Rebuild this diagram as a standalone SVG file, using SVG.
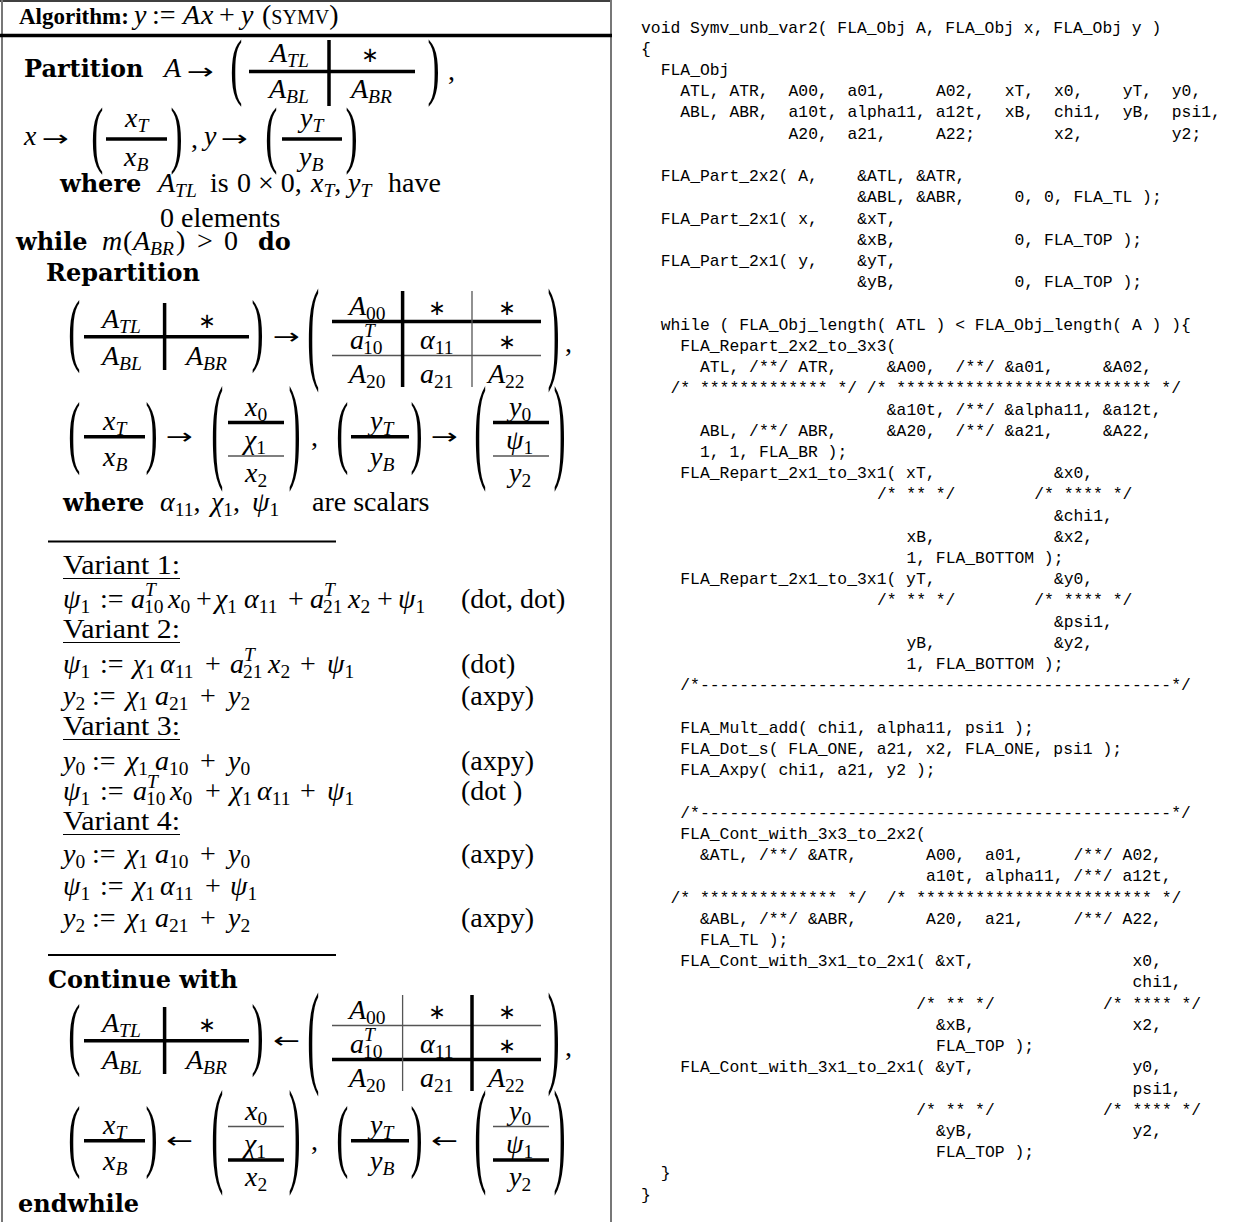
<svg xmlns="http://www.w3.org/2000/svg" width="1234" height="1222" viewBox="0 0 1234 1222">
<style>
.kb{font-family:"DejaVu Serif",serif;font-weight:bold;font-size:24px;fill:#000}
.tb{font-family:"Liberation Serif",serif;font-weight:bold;font-size:23px;fill:#000}
.mi{font-family:"Liberation Serif",serif;font-style:italic;font-size:28px;fill:#000}
.mr{font-family:"Liberation Serif",serif;font-size:28px;font-style:normal;fill:#000}
.ar{font-family:"DejaVu Sans",sans-serif;font-size:22px;font-style:normal;fill:#000}
.si{font-family:"Liberation Serif",serif;font-style:italic;font-size:19.5px}
.sr{font-family:"Liberation Serif",serif;font-style:normal;font-size:19.5px}
.sc{font-family:"Liberation Serif",serif;font-size:20px}
.ast{font-family:"DejaVu Sans",sans-serif;font-size:21px;text-anchor:middle;fill:#000}
.p{font-family:"Liberation Serif",serif;font-size:26px;fill:#000}
.tk{stroke:#000;stroke-width:3.5}
.tn{stroke:#555;stroke-width:1.3}
.rule{stroke:#000;stroke-width:2}
.ul{stroke:#000;stroke-width:1.2}
.code{font-family:"Liberation Mono",monospace;font-size:16.38px;fill:#000}
</style>
<rect width="1234" height="1222" fill="#fff"/>
<g id="frame">
<line x1="0" y1="1" x2="612" y2="1" stroke="#000" stroke-width="1.5"/>
<line x1="2" y1="0" x2="2" y2="1222" stroke="#777" stroke-width="2"/>
<line x1="611" y1="0" x2="611" y2="1222" stroke="#777" stroke-width="2"/>
<line x1="0" y1="35.5" x2="612" y2="35.5" stroke="#000" stroke-width="3.5"/>
</g>
<g id="title">
<text class="tb" x="19" y="24">Algorithm:</text>
<text class="mi" x="134" y="24">y</text>
<text class="mr" x="152" y="24">:=</text>
<text class="mi" x="183" y="24">A</text>
<text class="mi" x="201" y="24">x</text>
<text class="mr" x="219" y="24">+</text>
<text class="mi" x="241" y="24">y</text>
<text class="mr" x="262" y="24">(<tspan class="sc">SYMV</tspan>)</text>
</g>
<g id="partition">
<text class="kb" x="24" y="77">Partition</text>
<text class="mi" x="164" y="77">A</text>
<text class="ar" x="187" y="78.5" textLength="27" lengthAdjust="spacingAndGlyphs">→</text>
<text class="p" transform="translate(230.25,90.7) scale(1.4,2.885)">(</text>
<text class="mi" x="270" y="62">A<tspan class="si" dy="5">TL</tspan></text>
<text class="ast" x="370" y="62">∗</text>
<line class="tk" x1="249" y1="71.5" x2="415" y2="71.5"/>
<line class="tk" x1="329" y1="40" x2="329" y2="106"/>
<text class="mi" x="269" y="98">A<tspan class="si" dy="5">BL</tspan></text>
<text class="mi" x="351" y="98">A<tspan class="si" dy="5">BR</tspan></text>
<text class="p" transform="translate(427.6,90.7) scale(1.4,2.885)">)</text>
<text class="mr" x="448" y="80">,</text>
<text class="mi" x="24" y="145">x</text>
<text class="ar" x="42" y="146" textLength="27" lengthAdjust="spacingAndGlyphs">→</text>
<text class="p" transform="translate(91.25,158.7) scale(1.4,2.885)">(</text>
<text class="mi" x="125" y="127">x<tspan class="si" dy="5">T</tspan></text>
<line class="tk" x1="106" y1="139" x2="167" y2="139"/>
<text class="mi" x="124" y="166">x<tspan class="si" dy="5">B</tspan></text>
<text class="p" transform="translate(170.6,158.7) scale(1.4,2.885)">)</text>
<text class="mr" x="191" y="148">,</text>
<text class="mi" x="204" y="145">y</text>
<text class="ar" x="221" y="146" textLength="27" lengthAdjust="spacingAndGlyphs">→</text>
<text class="p" transform="translate(265.25,158.7) scale(1.4,2.885)">(</text>
<text class="mi" x="300" y="127">y<tspan class="si" dy="5">T</tspan></text>
<line class="tk" x1="282" y1="139" x2="342" y2="139"/>
<text class="mi" x="299" y="166">y<tspan class="si" dy="5">B</tspan></text>
<text class="p" transform="translate(345.6,158.7) scale(1.4,2.885)">)</text>
<text class="kb" x="60" y="192">where</text>
<text class="mi" x="158" y="192">A<tspan class="si" dy="5">TL</tspan></text>
<text class="mr" x="210" y="192">is</text>
<text class="mr" x="237" y="192">0 × 0,</text>
<text class="mi" x="311" y="192">x<tspan class="si" dy="5">T</tspan><tspan class="mr" dy="-5">,</tspan></text>
<text class="mi" x="348" y="192">y<tspan class="si" dy="5">T</tspan></text>
<text class="mr" x="388" y="192">have</text>
<text class="mr" x="160" y="227">0 elements</text>
</g>
<g id="while">
<text class="kb" x="16" y="250">while</text>
<text class="mi" x="102" y="250">m</text>
<text class="mr" x="123" y="250">(</text>
<text class="mi" x="133" y="250">A<tspan class="si" dy="5">BR</tspan></text>
<text class="mr" x="176" y="250">)</text>
<text class="mr" x="197" y="250">&gt;</text>
<text class="mr" x="224" y="250">0</text>
<text class="kb" x="258" y="250">do</text>
</g>
<g id="repartition">
<text class="kb" x="46" y="281">Repartition</text>
<text class="p" transform="translate(68.25,355.9) scale(1.4,3.066)">(</text>
<text class="mi" x="102" y="328">A<tspan class="si" dy="5">TL</tspan></text>
<text class="ast" x="207" y="328">∗</text>
<text class="mi" x="102" y="365">A<tspan class="si" dy="5">BL</tspan></text>
<text class="mi" x="186" y="365">A<tspan class="si" dy="5">BR</tspan></text>
<line class="tk" x1="84" y1="336.7" x2="249" y2="336.7"/>
<line class="tk" x1="164.6" y1="303" x2="164.6" y2="370"/>
<text class="p" transform="translate(251.6,355.9) scale(1.4,3.066)">)</text>
<text class="ar" x="273" y="343.7" textLength="27" lengthAdjust="spacingAndGlyphs">→</text>
<text class="p" transform="translate(307.25,367.7) scale(1.4,4.418)">(</text>
<line class="tk" x1="332" y1="321.5" x2="541" y2="321.5"/>
<line class="tn" x1="332" y1="355.5" x2="541" y2="355.5"/>
<line class="tk" x1="402.6" y1="291" x2="402.6" y2="387"/>
<line class="tn" x1="472" y1="291" x2="472" y2="387"/>
<text class="mi" x="349" y="315">A<tspan class="sr" dy="5">00</tspan></text>
<text class="ast" x="437" y="315">∗</text>
<text class="ast" x="507" y="315">∗</text>
<text class="mi" x="350" y="349">a</text><text class="si" x="364" y="337">T</text><text class="sr" x="363" y="354">10</text>
<text class="mi" x="420" y="349">α<tspan class="sr" dy="5">11</tspan></text>
<text class="ast" x="507" y="349">∗</text>
<text class="mi" x="349" y="383">A<tspan class="sr" dy="5">20</tspan></text>
<text class="mi" x="420" y="383">a<tspan class="sr" dy="5">21</tspan></text>
<text class="mi" x="488" y="383">A<tspan class="sr" dy="5">22</tspan></text>
<text class="p" transform="translate(547.6,367.7) scale(1.4,4.418)">)</text>
<text class="mr" x="565" y="352">,</text>
<text class="p" transform="translate(68.25,457.7) scale(1.4,3.111)">(</text>
<text class="mi" x="103" y="430">x<tspan class="si" dy="5">T</tspan></text>
<line class="tk" x1="84" y1="436.7" x2="145" y2="436.7"/>
<text class="mi" x="103" y="466">x<tspan class="si" dy="5">B</tspan></text>
<text class="p" transform="translate(145.6,457.7) scale(1.4,3.111)">)</text>
<text class="ar" x="166" y="443.7" textLength="27" lengthAdjust="spacingAndGlyphs">→</text>
<text class="p" transform="translate(211.25,467.3) scale(1.4,4.509)">(</text>
<text class="mi" x="245" y="416">x<tspan class="sr" dy="5">0</tspan></text>
<line class="tk" x1="228" y1="422.5" x2="284" y2="422.5"/>
<text class="mi" x="244" y="449">χ<tspan class="sr" dy="5">1</tspan></text>
<line class="tn" x1="228" y1="456" x2="284" y2="456"/>
<text class="mi" x="245" y="482">x<tspan class="sr" dy="5">2</tspan></text>
<text class="p" transform="translate(288.6,467.3) scale(1.4,4.509)">)</text>
<text class="mr" x="311" y="446">,</text>
<text class="p" transform="translate(336.25,457.7) scale(1.4,3.111)">(</text>
<text class="mi" x="370" y="430">y<tspan class="si" dy="5">T</tspan></text>
<line class="tk" x1="351" y1="436.7" x2="409" y2="436.7"/>
<text class="mi" x="370" y="466">y<tspan class="si" dy="5">B</tspan></text>
<text class="p" transform="translate(410.6,457.7) scale(1.4,3.111)">)</text>
<text class="ar" x="431" y="443.7" textLength="27" lengthAdjust="spacingAndGlyphs">→</text>
<text class="p" transform="translate(474.25,467.3) scale(1.4,4.509)">(</text>
<text class="mi" x="509" y="416">y<tspan class="sr" dy="5">0</tspan></text>
<line class="tk" x1="493" y1="422.5" x2="549" y2="422.5"/>
<text class="mi" x="506" y="449">ψ<tspan class="sr" dy="5">1</tspan></text>
<line class="tn" x1="493" y1="456" x2="549" y2="456"/>
<text class="mi" x="509" y="482">y<tspan class="sr" dy="5">2</tspan></text>
<text class="p" transform="translate(553.6,467.3) scale(1.4,4.509)">)</text>
<text class="kb" x="63" y="511">where</text>
<text class="mi" x="160" y="511">α<tspan class="sr" dy="5">11</tspan><tspan class="mr" dy="-5">,</tspan></text>
<text class="mi" x="211" y="511">χ<tspan class="sr" dy="5">1</tspan><tspan class="mr" dy="-5">,</tspan></text>
<text class="mi" x="252" y="511">ψ<tspan class="sr" dy="5">1</tspan></text>
<text class="mr" x="312" y="511">are scalars</text>
</g>
<g id="update">
<line class="rule" x1="48" y1="541.5" x2="336" y2="541.5"/>
<text class="mr" x="63" y="574" textLength="117" lengthAdjust="spacingAndGlyphs">Variant 1:</text>
<line class="ul" x1="63" y1="578.5" x2="180" y2="578.5"/>
<text class="mi" x="63" y="608">ψ<tspan class="sr" dy="5">1</tspan></text>
<text class="mr" x="100" y="608">:=</text>
<text class="mi" x="131" y="608">a</text><text class="si" x="145" y="596">T</text><text class="sr" x="144" y="613">10</text>
<text class="mi" x="168" y="608">x<tspan class="sr" dy="5">0</tspan></text>
<text class="mr" x="196" y="608">+</text>
<text class="mi" x="215" y="608">χ<tspan class="sr" dy="5">1</tspan></text>
<text class="mi" x="244" y="608">α<tspan class="sr" dy="5">11</tspan></text>
<text class="mr" x="288" y="608">+</text>
<text class="mi" x="310" y="608">a</text><text class="si" x="324" y="596">T</text><text class="sr" x="323" y="613">21</text>
<text class="mi" x="348" y="608">x<tspan class="sr" dy="5">2</tspan></text>
<text class="mr" x="377" y="608">+</text>
<text class="mi" x="398" y="608">ψ<tspan class="sr" dy="5">1</tspan></text>
<text class="mr" x="461" y="608">(dot, dot)</text>
<text class="mr" x="63" y="638" textLength="117" lengthAdjust="spacingAndGlyphs">Variant 2:</text>
<line class="ul" x1="63" y1="642.5" x2="180" y2="642.5"/>
<text class="mi" x="63" y="673">ψ<tspan class="sr" dy="5">1</tspan></text>
<text class="mr" x="100" y="673">:=</text>
<text class="mi" x="133" y="673">χ<tspan class="sr" dy="5">1</tspan></text>
<text class="mi" x="160" y="673">α<tspan class="sr" dy="5">11</tspan></text>
<text class="mr" x="205" y="673">+</text>
<text class="mi" x="230" y="673">a</text><text class="si" x="244" y="661">T</text><text class="sr" x="243" y="678">21</text>
<text class="mi" x="268" y="673">x<tspan class="sr" dy="5">2</tspan></text>
<text class="mr" x="300" y="673">+</text>
<text class="mi" x="327" y="673">ψ<tspan class="sr" dy="5">1</tspan></text>
<text class="mr" x="461" y="673">(dot)</text>
<text class="mi" x="63" y="705">y<tspan class="sr" dy="5">2</tspan></text>
<text class="mr" x="92" y="705">:=</text>
<text class="mi" x="126" y="705">χ<tspan class="sr" dy="5">1</tspan></text>
<text class="mi" x="155" y="705">a<tspan class="sr" dy="5">21</tspan></text>
<text class="mr" x="200" y="705">+</text>
<text class="mi" x="228" y="705">y<tspan class="sr" dy="5">2</tspan></text>
<text class="mr" x="461" y="705">(axpy)</text>
<text class="mr" x="63" y="735" textLength="117" lengthAdjust="spacingAndGlyphs">Variant 3:</text>
<line class="ul" x1="63" y1="739.5" x2="180" y2="739.5"/>
<text class="mi" x="63" y="770">y<tspan class="sr" dy="5">0</tspan></text>
<text class="mr" x="92" y="770">:=</text>
<text class="mi" x="126" y="770">χ<tspan class="sr" dy="5">1</tspan></text>
<text class="mi" x="155" y="770">a<tspan class="sr" dy="5">10</tspan></text>
<text class="mr" x="200" y="770">+</text>
<text class="mi" x="228" y="770">y<tspan class="sr" dy="5">0</tspan></text>
<text class="mr" x="461" y="770">(axpy)</text>
<text class="mi" x="63" y="800">ψ<tspan class="sr" dy="5">1</tspan></text>
<text class="mr" x="100" y="800">:=</text>
<text class="mi" x="133" y="800">a</text><text class="si" x="147" y="788">T</text><text class="sr" x="146" y="805">10</text>
<text class="mi" x="170" y="800">x<tspan class="sr" dy="5">0</tspan></text>
<text class="mr" x="205" y="800">+</text>
<text class="mi" x="230" y="800">χ<tspan class="sr" dy="5">1</tspan></text>
<text class="mi" x="257" y="800">α<tspan class="sr" dy="5">11</tspan></text>
<text class="mr" x="300" y="800">+</text>
<text class="mi" x="327" y="800">ψ<tspan class="sr" dy="5">1</tspan></text>
<text class="mr" x="461" y="800">(dot )</text>
<text class="mr" x="63" y="830" textLength="117" lengthAdjust="spacingAndGlyphs">Variant 4:</text>
<line class="ul" x1="63" y1="834.5" x2="180" y2="834.5"/>
<text class="mi" x="63" y="863">y<tspan class="sr" dy="5">0</tspan></text>
<text class="mr" x="92" y="863">:=</text>
<text class="mi" x="126" y="863">χ<tspan class="sr" dy="5">1</tspan></text>
<text class="mi" x="155" y="863">a<tspan class="sr" dy="5">10</tspan></text>
<text class="mr" x="200" y="863">+</text>
<text class="mi" x="228" y="863">y<tspan class="sr" dy="5">0</tspan></text>
<text class="mr" x="461" y="863">(axpy)</text>
<text class="mi" x="63" y="895">ψ<tspan class="sr" dy="5">1</tspan></text>
<text class="mr" x="100" y="895">:=</text>
<text class="mi" x="133" y="895">χ<tspan class="sr" dy="5">1</tspan></text>
<text class="mi" x="160" y="895">α<tspan class="sr" dy="5">11</tspan></text>
<text class="mr" x="205" y="895">+</text>
<text class="mi" x="230" y="895">ψ<tspan class="sr" dy="5">1</tspan></text>
<text class="mi" x="63" y="927">y<tspan class="sr" dy="5">2</tspan></text>
<text class="mr" x="92" y="927">:=</text>
<text class="mi" x="126" y="927">χ<tspan class="sr" dy="5">1</tspan></text>
<text class="mi" x="155" y="927">a<tspan class="sr" dy="5">21</tspan></text>
<text class="mr" x="200" y="927">+</text>
<text class="mi" x="228" y="927">y<tspan class="sr" dy="5">2</tspan></text>
<text class="mr" x="461" y="927">(axpy)</text>
<line class="rule" x1="48" y1="955" x2="336" y2="955"/>
</g>
<g id="continue">
<text class="kb" x="48" y="988">Continue with</text>
<text class="p" transform="translate(68.25,1059.9) scale(1.4,3.066)">(</text>
<text class="mi" x="102" y="1032">A<tspan class="si" dy="5">TL</tspan></text>
<text class="ast" x="207" y="1032">∗</text>
<text class="mi" x="102" y="1069">A<tspan class="si" dy="5">BL</tspan></text>
<text class="mi" x="186" y="1069">A<tspan class="si" dy="5">BR</tspan></text>
<line class="tk" x1="84" y1="1040.7" x2="249" y2="1040.7"/>
<line class="tk" x1="164.6" y1="1007" x2="164.6" y2="1074"/>
<text class="p" transform="translate(251.6,1059.9) scale(1.4,3.066)">)</text>
<text class="ar" x="273" y="1047.7" textLength="27" lengthAdjust="spacingAndGlyphs">←</text>
<text class="p" transform="translate(307.25,1071.7) scale(1.4,4.418)">(</text>
<line class="tn" x1="332" y1="1025.5" x2="541" y2="1025.5"/>
<line class="tk" x1="332" y1="1059.5" x2="541" y2="1059.5"/>
<line class="tn" x1="402.6" y1="995" x2="402.6" y2="1091"/>
<line class="tk" x1="472" y1="995" x2="472" y2="1091"/>
<text class="mi" x="349" y="1019">A<tspan class="sr" dy="5">00</tspan></text>
<text class="ast" x="437" y="1019">∗</text>
<text class="ast" x="507" y="1019">∗</text>
<text class="mi" x="350" y="1053">a</text><text class="si" x="364" y="1041">T</text><text class="sr" x="363" y="1058">10</text>
<text class="mi" x="420" y="1053">α<tspan class="sr" dy="5">11</tspan></text>
<text class="ast" x="507" y="1053">∗</text>
<text class="mi" x="349" y="1087">A<tspan class="sr" dy="5">20</tspan></text>
<text class="mi" x="420" y="1087">a<tspan class="sr" dy="5">21</tspan></text>
<text class="mi" x="488" y="1087">A<tspan class="sr" dy="5">22</tspan></text>
<text class="p" transform="translate(547.6,1071.7) scale(1.4,4.418)">)</text>
<text class="mr" x="565" y="1056">,</text>
<text class="p" transform="translate(68.25,1161.7) scale(1.4,3.111)">(</text>
<text class="mi" x="103" y="1134">x<tspan class="si" dy="5">T</tspan></text>
<line class="tk" x1="84" y1="1140.7" x2="145" y2="1140.7"/>
<text class="mi" x="103" y="1170">x<tspan class="si" dy="5">B</tspan></text>
<text class="p" transform="translate(145.6,1161.7) scale(1.4,3.111)">)</text>
<text class="ar" x="166" y="1147.7" textLength="27" lengthAdjust="spacingAndGlyphs">←</text>
<text class="p" transform="translate(211.25,1171.3) scale(1.4,4.509)">(</text>
<text class="mi" x="245" y="1120">x<tspan class="sr" dy="5">0</tspan></text>
<line class="tn" x1="228" y1="1126.5" x2="284" y2="1126.5"/>
<text class="mi" x="244" y="1153">χ<tspan class="sr" dy="5">1</tspan></text>
<line class="tk" x1="228" y1="1160" x2="284" y2="1160"/>
<text class="mi" x="245" y="1186">x<tspan class="sr" dy="5">2</tspan></text>
<text class="p" transform="translate(288.6,1171.3) scale(1.4,4.509)">)</text>
<text class="mr" x="311" y="1150">,</text>
<text class="p" transform="translate(336.25,1161.7) scale(1.4,3.111)">(</text>
<text class="mi" x="370" y="1134">y<tspan class="si" dy="5">T</tspan></text>
<line class="tk" x1="351" y1="1140.7" x2="409" y2="1140.7"/>
<text class="mi" x="370" y="1170">y<tspan class="si" dy="5">B</tspan></text>
<text class="p" transform="translate(410.6,1161.7) scale(1.4,3.111)">)</text>
<text class="ar" x="431" y="1147.7" textLength="27" lengthAdjust="spacingAndGlyphs">←</text>
<text class="p" transform="translate(474.25,1171.3) scale(1.4,4.509)">(</text>
<text class="mi" x="509" y="1120">y<tspan class="sr" dy="5">0</tspan></text>
<line class="tn" x1="493" y1="1126.5" x2="549" y2="1126.5"/>
<text class="mi" x="506" y="1153">ψ<tspan class="sr" dy="5">1</tspan></text>
<line class="tk" x1="493" y1="1160" x2="549" y2="1160"/>
<text class="mi" x="509" y="1186">y<tspan class="sr" dy="5">2</tspan></text>
<text class="p" transform="translate(553.6,1171.3) scale(1.4,4.509)">)</text>
<text class="kb" x="18" y="1212">endwhile</text>
</g>
<g id="code" class="code">
<text y="32.5"><tspan x="641">void Symv_unb_var2( FLA_Obj A, FLA_Obj x, FLA_Obj y )</tspan></text>
<text y="53.7"><tspan x="641">{</tspan></text>
<text y="74.9"><tspan x="660.7">FLA_Obj</tspan></text>
<text y="96.2"><tspan x="680.3">ATL, ATR,</tspan><tspan x="788.5">A00,</tspan><tspan x="847.4">a01,</tspan><tspan x="935.9">A02,</tspan><tspan x="1004.7">xT,</tspan><tspan x="1053.9">x0,</tspan><tspan x="1122.7">yT,</tspan><tspan x="1171.8">y0,</tspan></text>
<text y="117.4"><tspan x="680.3">ABL, ABR,</tspan><tspan x="788.5">a10t, alpha11, a12t,</tspan><tspan x="1004.7">xB,</tspan><tspan x="1053.9">chi1,</tspan><tspan x="1122.7">yB,</tspan><tspan x="1171.8">psi1,</tspan></text>
<text y="138.6"><tspan x="788.5">A20,</tspan><tspan x="847.4">a21,</tspan><tspan x="935.9">A22;</tspan><tspan x="1053.9">x2,</tspan><tspan x="1171.8">y2;</tspan></text>
<text y="181.0"><tspan x="660.7">FLA_Part_2x2( A,</tspan><tspan x="857.3">&amp;ATL, &amp;ATR,</tspan></text>
<text y="202.3"><tspan x="857.3">&amp;ABL, &amp;ABR,</tspan><tspan x="1014.5">0, 0, FLA_TL );</tspan></text>
<text y="223.5"><tspan x="660.7">FLA_Part_2x1( x,</tspan><tspan x="857.3">&amp;xT,</tspan></text>
<text y="244.7"><tspan x="857.3">&amp;xB,</tspan><tspan x="1014.5">0, FLA_TOP );</tspan></text>
<text y="265.9"><tspan x="660.7">FLA_Part_2x1( y,</tspan><tspan x="857.3">&amp;yT,</tspan></text>
<text y="287.1"><tspan x="857.3">&amp;yB,</tspan><tspan x="1014.5">0, FLA_TOP );</tspan></text>
<text y="329.6"><tspan x="660.7">while ( FLA_Obj_length( ATL ) &lt; FLA_Obj_length( A ) ){</tspan></text>
<text y="350.8"><tspan x="680.3">FLA_Repart_2x2_to_3x3(</tspan></text>
<text y="372.0"><tspan x="700.0">ATL, /**/ ATR,</tspan><tspan x="886.8">&amp;A00,</tspan><tspan x="955.6">/**/ &amp;a01,</tspan><tspan x="1103.0">&amp;A02,</tspan></text>
<text y="393.2"><tspan x="670.5">/* ************* */ /* ************************** */</tspan></text>
<text y="414.5"><tspan x="886.8">&amp;a10t, /**/ &amp;alpha11, &amp;a12t,</tspan></text>
<text y="435.7"><tspan x="700.0">ABL, /**/ ABR,</tspan><tspan x="886.8">&amp;A20,</tspan><tspan x="955.6">/**/ &amp;a21,</tspan><tspan x="1103.0">&amp;A22,</tspan></text>
<text y="456.9"><tspan x="700.0">1, 1, FLA_BR );</tspan></text>
<text y="478.1"><tspan x="680.3">FLA_Repart_2x1_to_3x1( xT,</tspan><tspan x="1053.9">&amp;x0,</tspan></text>
<text y="499.3"><tspan x="876.9">/* ** */</tspan><tspan x="1034.2">/* **** */</tspan></text>
<text y="520.6"><tspan x="1053.9">&amp;chi1,</tspan></text>
<text y="541.8"><tspan x="906.4">xB,</tspan><tspan x="1053.9">&amp;x2,</tspan></text>
<text y="563.0"><tspan x="906.4">1, FLA_BOTTOM );</tspan></text>
<text y="584.2"><tspan x="680.3">FLA_Repart_2x1_to_3x1( yT,</tspan><tspan x="1053.9">&amp;y0,</tspan></text>
<text y="605.4"><tspan x="876.9">/* ** */</tspan><tspan x="1034.2">/* **** */</tspan></text>
<text y="626.7"><tspan x="1053.9">&amp;psi1,</tspan></text>
<text y="647.9"><tspan x="906.4">yB,</tspan><tspan x="1053.9">&amp;y2,</tspan></text>
<text y="669.1"><tspan x="906.4">1, FLA_BOTTOM );</tspan></text>
<text y="690.3"><tspan x="680.3">/*------------------------------------------------*/</tspan></text>
<text y="732.8"><tspan x="680.3">FLA_Mult_add( chi1, alpha11, psi1 );</tspan></text>
<text y="754.0"><tspan x="680.3">FLA_Dot_s( FLA_ONE, a21, x2, FLA_ONE, psi1 );</tspan></text>
<text y="775.2"><tspan x="680.3">FLA_Axpy( chi1, a21, y2 );</tspan></text>
<text y="817.6"><tspan x="680.3">/*------------------------------------------------*/</tspan></text>
<text y="838.9"><tspan x="680.3">FLA_Cont_with_3x3_to_2x2(</tspan></text>
<text y="860.1"><tspan x="700.0">&amp;ATL, /**/ &amp;ATR,</tspan><tspan x="926.1">A00,</tspan><tspan x="985.1">a01,</tspan><tspan x="1073.5">/**/ A02,</tspan></text>
<text y="881.3"><tspan x="926.1">a10t, alpha11, /**/ a12t,</tspan></text>
<text y="902.5"><tspan x="670.5">/* ************** */</tspan><tspan x="886.8">/* ************************ */</tspan></text>
<text y="923.7"><tspan x="700.0">&amp;ABL, /**/ &amp;ABR,</tspan><tspan x="926.1">A20,</tspan><tspan x="985.1">a21,</tspan><tspan x="1073.5">/**/ A22,</tspan></text>
<text y="945.0"><tspan x="700.0">FLA_TL );</tspan></text>
<text y="966.2"><tspan x="680.3">FLA_Cont_with_3x1_to_2x1( &amp;xT,</tspan><tspan x="1132.5">x0,</tspan></text>
<text y="987.4"><tspan x="1132.5">chi1,</tspan></text>
<text y="1008.6"><tspan x="916.2">/* ** */</tspan><tspan x="1103.0">/* **** */</tspan></text>
<text y="1029.8"><tspan x="935.9">&amp;xB,</tspan><tspan x="1132.5">x2,</tspan></text>
<text y="1051.1"><tspan x="935.9">FLA_TOP );</tspan></text>
<text y="1072.3"><tspan x="680.3">FLA_Cont_with_3x1_to_2x1( &amp;yT,</tspan><tspan x="1132.5">y0,</tspan></text>
<text y="1093.5"><tspan x="1132.5">psi1,</tspan></text>
<text y="1114.7"><tspan x="916.2">/* ** */</tspan><tspan x="1103.0">/* **** */</tspan></text>
<text y="1135.9"><tspan x="935.9">&amp;yB,</tspan><tspan x="1132.5">y2,</tspan></text>
<text y="1157.2"><tspan x="935.9">FLA_TOP );</tspan></text>
<text y="1178.4"><tspan x="660.7">}</tspan></text>
<text y="1199.6"><tspan x="641">}</tspan></text>
</g>
</svg>
